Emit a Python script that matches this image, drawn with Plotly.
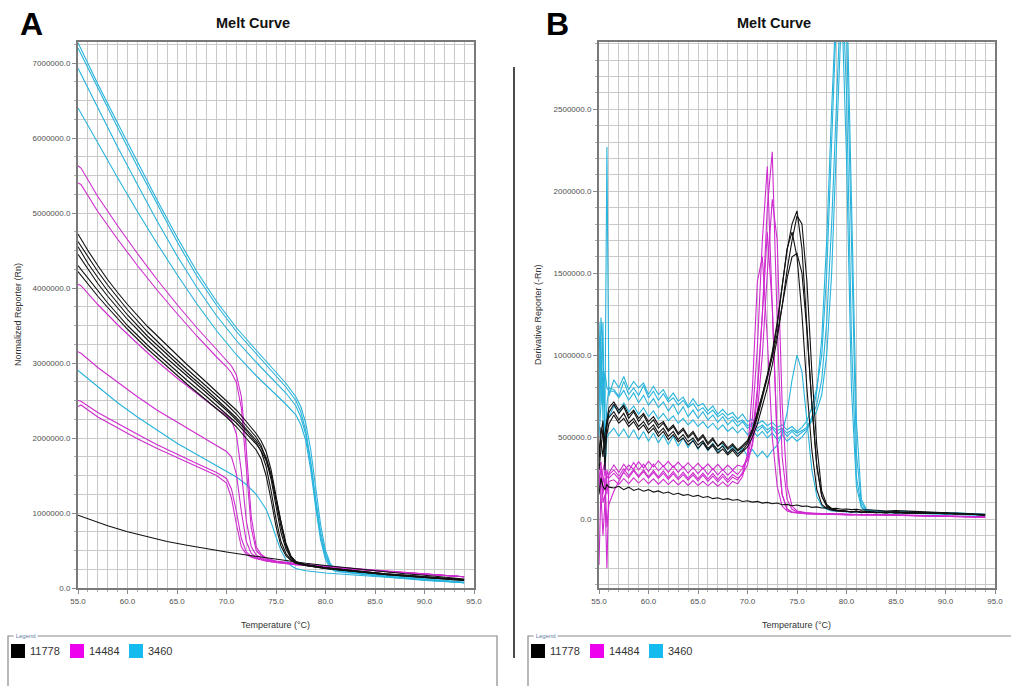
import plotly.graph_objects as go

W, H = 1011, 686

# ---------------- Panel A : Normalized Reporter (Rn), values in millions ----------------
A_BLACK_T = [55, 56, 57, 58, 59, 60, 62, 64, 66, 68, 70, 71, 72, 73, 73.5, 74, 74.5, 75,
             75.5, 76, 76.5, 77, 78, 80, 83, 86, 90, 94]
A_BLACK_M = [
    [4.72, 4.50, 4.30, 4.11, 3.94, 3.78, 3.49, 3.23, 2.98, 2.74, 2.50, 2.37, 2.22, 2.06, 1.96, 1.82, 1.58, 1.24, 0.88, 0.60, 0.43, 0.35, 0.31, 0.27, 0.23, 0.19, 0.15, 0.11],
    [4.62, 4.42, 4.22, 4.04, 3.87, 3.71, 3.42, 3.16, 2.92, 2.69, 2.45, 2.32, 2.17, 2.01, 1.90, 1.72, 1.45, 1.08, 0.74, 0.52, 0.40, 0.34, 0.30, 0.26, 0.22, 0.18, 0.14, 0.11],
    [4.55, 4.33, 4.14, 3.96, 3.80, 3.64, 3.36, 3.11, 2.87, 2.64, 2.40, 2.27, 2.12, 1.97, 1.87, 1.74, 1.52, 1.18, 0.82, 0.56, 0.41, 0.35, 0.31, 0.27, 0.23, 0.19, 0.15, 0.11],
    [4.45, 4.25, 4.06, 3.89, 3.73, 3.58, 3.31, 3.06, 2.83, 2.60, 2.37, 2.24, 2.10, 1.94, 1.82, 1.62, 1.30, 0.92, 0.62, 0.46, 0.38, 0.33, 0.30, 0.26, 0.22, 0.18, 0.14, 0.10],
    [4.30, 4.13, 3.96, 3.80, 3.65, 3.50, 3.24, 3.00, 2.77, 2.55, 2.32, 2.20, 2.06, 1.92, 1.83, 1.70, 1.50, 1.20, 0.86, 0.58, 0.42, 0.35, 0.31, 0.27, 0.23, 0.19, 0.15, 0.11],
    [4.22, 4.05, 3.89, 3.74, 3.59, 3.45, 3.19, 2.95, 2.72, 2.50, 2.28, 2.15, 2.00, 1.84, 1.72, 1.50, 1.18, 0.82, 0.56, 0.43, 0.37, 0.33, 0.30, 0.26, 0.22, 0.18, 0.14, 0.10],
]
A_BLACK_LOW_T = [55, 56, 57, 58, 60, 62, 64, 66, 68, 70, 72, 74, 76, 78, 80, 82, 84, 86, 88, 90, 92, 94]
A_BLACK_LOW_M = [0.97, 0.92, 0.87, 0.83, 0.75, 0.68, 0.62, 0.57, 0.52, 0.48, 0.44, 0.40, 0.36, 0.33,
                 0.30, 0.27, 0.24, 0.22, 0.19, 0.17, 0.14, 0.12]

A_MAG_T = [55, 55.3, 57, 59, 61, 63, 65, 67, 69, 70, 70.5, 71, 71.5, 72, 72.5, 73, 73.5, 74, 75,
           77, 80, 83, 86, 90, 94]
A_MAG_M = [
    [5.63, 5.60, 5.22, 4.83, 4.46, 4.11, 3.78, 3.47, 3.18, 3.04, 2.96, 2.84, 2.55, 1.85, 0.95, 0.55, 0.45, 0.40, 0.36, 0.33, 0.29, 0.25, 0.22, 0.18, 0.15],
    [5.40, 5.38, 5.02, 4.65, 4.30, 3.97, 3.66, 3.36, 3.08, 2.95, 2.87, 2.74, 2.40, 1.60, 0.80, 0.50, 0.43, 0.39, 0.35, 0.32, 0.29, 0.25, 0.22, 0.18, 0.15],
    [4.05, 4.03, 3.78, 3.51, 3.26, 3.02, 2.80, 2.59, 2.39, 2.30, 2.24, 2.05, 1.55, 0.90, 0.55, 0.44, 0.40, 0.38, 0.35, 0.32, 0.28, 0.25, 0.22, 0.18, 0.15],
    [3.15, 3.13, 2.94, 2.74, 2.55, 2.37, 2.21, 2.05, 1.90, 1.82, 1.75, 1.52, 1.02, 0.62, 0.46, 0.41, 0.39, 0.37, 0.35, 0.32, 0.28, 0.25, 0.22, 0.18, 0.15],
    [2.50, 2.49, 2.34, 2.19, 2.05, 1.91, 1.78, 1.66, 1.54, 1.46, 1.32, 1.02, 0.66, 0.48, 0.42, 0.40, 0.38, 0.36, 0.34, 0.31, 0.28, 0.25, 0.22, 0.18, 0.15],
    [2.42, 2.44, 2.28, 2.13, 1.99, 1.86, 1.74, 1.62, 1.50, 1.40, 1.20, 0.85, 0.55, 0.45, 0.41, 0.39, 0.37, 0.36, 0.34, 0.31, 0.28, 0.25, 0.22, 0.18, 0.15],
]

A_CYAN_T = [55, 57, 59, 61, 63, 65, 67, 69, 71, 73, 75, 76, 77, 77.5, 78, 78.5, 79, 79.5, 80,
            80.5, 81, 83, 86, 90, 94]
A_CYAN_M = [
    [7.27, 6.72, 6.20, 5.68, 5.17, 4.68, 4.22, 3.82, 3.47, 3.17, 2.88, 2.73, 2.55, 2.42, 2.20, 1.85, 1.35, 0.85, 0.50, 0.32, 0.25, 0.21, 0.17, 0.12, 0.08],
    [7.20, 6.66, 6.14, 5.62, 5.11, 4.62, 4.16, 3.77, 3.42, 3.12, 2.83, 2.68, 2.50, 2.35, 2.10, 1.70, 1.20, 0.75, 0.45, 0.30, 0.24, 0.20, 0.16, 0.11, 0.07],
    [6.93, 6.40, 5.88, 5.38, 4.89, 4.43, 4.01, 3.63, 3.30, 3.01, 2.74, 2.60, 2.43, 2.28, 2.05, 1.65, 1.15, 0.70, 0.42, 0.28, 0.23, 0.20, 0.16, 0.11, 0.07],
    [6.40, 5.93, 5.47, 5.02, 4.59, 4.18, 3.79, 3.43, 3.11, 2.83, 2.58, 2.45, 2.31, 2.18, 1.97, 1.58, 1.08, 0.64, 0.38, 0.26, 0.22, 0.19, 0.15, 0.10, 0.07],
]
A_CYAN_LOW_T = [55, 57, 59, 61, 63, 65, 67, 69, 71, 72, 73, 74, 74.5, 75, 75.5, 76, 76.5, 77,
                78, 80, 83, 86, 90, 94]
A_CYAN_LOW_M = [2.90, 2.68, 2.47, 2.28, 2.10, 1.93, 1.78, 1.63, 1.48, 1.38, 1.25, 1.05, 0.88, 0.68,
                0.50, 0.38, 0.30, 0.26, 0.23, 0.20, 0.17, 0.14, 0.10, 0.07]

# ---------------- Panel B : Derivative Reporter (-Rn), values in thousands ----------------
B_T = [55.0, 55.2, 55.4, 55.6, 55.8, 56.0,
       56.5, 57.0, 57.5, 58.0, 58.5, 59.0, 59.5, 60.0,
       60.5, 61.0, 61.5, 62.0, 62.5, 63.0, 63.5, 64.0,
       64.5, 65.0, 65.5, 66.0, 66.5, 67.0, 67.5, 68.0,
       68.5, 69.0, 69.5, 70.0, 70.5, 71.0, 71.5, 72.0,
       72.5, 73.0, 73.5, 74.0, 74.5, 75.0, 75.5, 76.0,
       76.5, 77.0, 77.5, 78.0, 78.5, 79.0, 79.5, 80.0,
       80.5, 81.0, 81.5, 82.0,
       83.0, 84.0, 85.0, 86.0, 87.0, 88.0, 89.0, 90.0, 91.0, 92.0, 93.0, 94.0]

B_CYAN_K = [
    [1200, 700, 900, 600, 2270, 750,
     850, 800, 870, 790, 840, 800, 830, 760,
     810, 760, 790, 730, 770, 720, 745, 690,
     735, 690, 705, 660, 690, 640, 670, 635,
     650, 610, 640, 595, 610, 580, 600, 570,
     590, 560, 575, 545, 565, 535, 560, 600,
     680, 800, 1000, 1500, 2300, 3100, 3400, 2600,
     1100, 260, 80, 50,
     45, 42, 44, 40, 42, 38, 40, 36, 38, 34, 32, 30],
    [900, 1100, 600, 400, 700, 800,
     790, 750, 840, 760, 800, 755, 815, 740,
     780, 725, 765, 715, 740, 695, 725, 680,
     705, 660, 680, 640, 665, 625, 645, 610,
     625, 590, 605, 570, 585, 555, 575, 545,
     565, 540, 555, 525, 545, 525, 540, 560,
     620, 700, 850, 1200, 1800, 2600, 3300, 3000,
     1600, 400, 100, 55,
     48, 44, 46, 42, 40, 38, 36, 38, 34, 32, 30, 28],
    [600, 1230, 1000, 500, 650, 620,
     690, 650, 710, 655, 690, 640, 680, 625,
     660, 610, 645, 600, 630, 585, 615, 575,
     605, 565, 595, 555, 585, 545, 575, 535,
     560, 525, 555, 515, 545, 505, 535, 495,
     525, 485, 515, 475, 505, 475, 500, 540,
     620, 780, 1100, 1700, 2500, 3200, 3200, 2200,
     800, 200, 70, 48,
     44, 40, 42, 38, 40, 36, 38, 34, 32, 30, 28, 26],
    [800, 1000, 700, 900, 800, 780,
     780, 740, 785, 725, 770, 710, 755, 695,
     735, 680, 715, 660, 700, 640, 685, 625,
     665, 615, 655, 605, 635, 590, 625, 575,
     605, 565, 595, 555, 575, 535, 565, 525,
     555, 515, 545, 505, 535, 505, 530, 550,
     600, 660, 760, 1000, 1500, 2300, 3100, 3300,
     2000, 600, 120, 60,
     50, 46, 48, 44, 42, 40, 38, 36, 34, 32, 30, 28],
    [500, 700, 1200, 300, 500, 520,
     555, 505, 550, 495, 545, 485, 535, 475,
     525, 465, 515, 455, 505, 445, 495, 435,
     485, 425, 475, 415, 465, 405, 455, 400,
     445, 395, 435, 385, 425, 380, 415, 375,
     420, 450, 520, 650, 850, 1000, 900, 600,
     300, 140, 80, 60, 50, 48, 45, 44,
     42, 44, 40, 42,
     40, 38, 36, 35, 34, 32, 30, 29, 28, 26, 24, 22],
]

B_MAG_K = [
    [-280, 200, 300, 350, 150, 280,
     330, 285, 335, 295, 345, 300, 335, 290,
     335, 295, 325, 285, 325, 285, 320, 280,
     315, 278, 312, 272, 308, 270, 303, 268,
     298, 272, 310, 380, 520, 800, 1250, 1900,
     2240, 1200, 380, 120, 60, 45, 40, 38,
     36, 34, 36, 32, 34, 30, 32, 30,
     28, 30, 27, 29,
     28, 26, 27, 25, 24, 23, 22, 21, 20, 18, 16, 14],
    [300, 150, -100, 100, 300, 250,
     280, 245, 285, 252, 295, 255, 290, 250,
     285, 248, 280, 243, 278, 240, 272, 238,
     270, 233, 268, 230, 263, 227, 260, 224,
     256, 238, 285, 380, 620, 1050, 1700, 2150,
     1300, 450, 150, 60, 45, 40, 38, 35,
     34, 32, 33, 30, 31, 29, 30, 28,
     27, 29, 26, 28,
     27, 25, 26, 24, 23, 22, 21, 20, 19, 17, 15, 13],
    [200, 320, 100, 150, -300, 230,
     240, 212, 248, 216, 252, 220, 248, 216,
     246, 213, 243, 211, 240, 209, 237, 206,
     235, 205, 231, 203, 229, 201, 227, 199,
     230, 215, 260, 400, 800, 1450, 1600, 1100,
     500, 200, 80, 50, 40, 36, 34, 32,
     31, 30, 31, 29, 30, 28, 29, 27,
     26, 28, 25, 27,
     26, 24, 25, 23, 22, 21, 20, 19, 18, 16, 14, 12],
    [300, 350, 150, 250, -50, 90,
     170, 230, 290, 330, 305, 350, 312, 352,
     318, 356, 320, 352, 316, 348, 312, 344,
     310, 340, 306, 337, 302, 334, 299, 330,
     300, 330, 320, 360, 450, 650, 1000, 1500,
     1950, 1700, 700, 200, 80, 50, 42, 38,
     36, 34, 35, 32, 33, 30, 31, 29,
     28, 30, 27, 28,
     27, 26, 25, 24, 23, 22, 21, 20, 18, 17, 15, 13],
    [180, 260, 220, 300, 250, 270,
     300, 262, 308, 266, 304, 262, 300, 258,
     297, 256, 294, 253, 291, 251, 287, 249,
     284, 246, 281, 244, 279, 241, 276, 239,
     272, 250, 275, 330, 470, 760, 1250, 1750,
     1300, 500, 150, 60, 42, 38, 35, 33,
     32, 30, 31, 29, 30, 28, 29, 27,
     26, 28, 25, 27,
     26, 24, 25, 23, 22, 21, 20, 19, 18, 16, 14, 12],
]

B_BLACK_K = [
    [350, 520, 600, 300, 560, 650,
     700, 645, 685, 615, 655, 595, 635, 575,
     605, 555, 585, 535, 565, 515, 545, 495,
     525, 475, 505, 455, 485, 445, 465, 425,
     450, 415, 440, 470, 540, 640, 760, 880,
     1020, 1200, 1420, 1640, 1800, 1880, 1650, 1200,
     700, 330, 140, 80, 60, 55, 50, 48,
     45, 50, 42, 46,
     40, 44, 38, 42, 36, 40, 34, 38, 30, 34, 28, 25],
    [420, 480, 380, 520, 600, 620,
     655, 605, 645, 585, 615, 565, 595, 545,
     575, 525, 555, 505, 535, 485, 515, 472,
     495, 452, 478, 432, 458, 422, 445, 402,
     430, 398, 420, 460, 530, 620, 740, 860,
     1000, 1180, 1420, 1650, 1750, 1600, 1250, 800,
     420, 180, 90, 65, 55, 50, 52, 46,
     44, 48, 40, 45,
     42, 38, 44, 36, 40, 34, 38, 32, 36, 30, 28, 24],
    [300, 450, 550, 480, 520, 580,
     635, 585, 615, 565, 595, 545, 575, 525,
     555, 505, 535, 485, 515, 472, 495, 452,
     478, 432, 465, 422, 448, 402, 428, 392,
     420, 382, 410, 440, 500, 580, 690, 800,
     940, 1100, 1300, 1520, 1700, 1850, 1800, 1450,
     900, 450, 170, 90, 65, 55, 50, 47,
     44, 46, 42, 44,
     40, 42, 38, 40, 36, 38, 34, 36, 32, 30, 28, 26],
    [380, 560, 500, 420, 600, 680,
     715, 665, 695, 635, 665, 615, 645, 595,
     625, 575, 595, 545, 575, 525, 555, 505,
     535, 485, 515, 465, 495, 445, 475, 435,
     460, 422, 450, 480, 550, 650, 760, 870,
     990, 1130, 1300, 1470, 1600, 1620, 1500, 1150,
     700, 320, 140, 80, 60, 52, 50, 46,
     45, 48, 43, 45,
     42, 40, 44, 38, 40, 36, 38, 34, 32, 30, 28, 26],
    [150, 250, 200, 180, 210, 195,
     190, 200, 180, 195, 175, 185, 170, 180,
     165, 172, 158, 165, 150, 158, 145, 150,
     138, 145, 132, 138, 125, 130, 120, 125,
     115, 120, 108, 112, 104, 108, 98, 102,
     94, 98, 88, 90, 82, 86, 78, 80,
     72, 75, 68, 70, 64, 66, 60, 62,
     58, 60, 55, 57,
     54, 50, 52, 48, 46, 44, 42, 40, 38, 36, 34, 30],
]

SERIES_NAMES = ["11778", "14484", "3460"]
LINE_COLORS = {"11778": "#111111", "14484": "#cf2bcf", "3460": "#27b3dc"}
SWATCH_COLORS = {"11778": "#000000", "14484": "#ee00ee", "3460": "#14bbee"}

X_TICKS = [55, 60, 65, 70, 75, 80, 85, 90, 95]

# ------------------------------------------------------------------------------------------
def px(x):
    return x / W


def py(y):
    return 1 - y / H


fig = go.Figure()


def add_line(T, vals, scale, color, xa, ya):
    fig.add_trace(go.Scatter(
        x=T, y=[v * scale for v in vals], mode="lines",
        line=dict(color=color, width=1.1), xaxis=xa, yaxis=ya,
        showlegend=False, hoverinfo="skip"))


# Panel A
for v in A_CYAN_M:
    add_line(A_CYAN_T, v, 1e6, LINE_COLORS["3460"], "x", "y")
add_line(A_CYAN_LOW_T, A_CYAN_LOW_M, 1e6, LINE_COLORS["3460"], "x", "y")
for v in A_MAG_M:
    add_line(A_MAG_T, v, 1e6, LINE_COLORS["14484"], "x", "y")
for v in A_BLACK_M:
    add_line(A_BLACK_T, v, 1e6, LINE_COLORS["11778"], "x", "y")
add_line(A_BLACK_LOW_T, A_BLACK_LOW_M, 1e6, LINE_COLORS["11778"], "x", "y")

# Panel B
for v in B_CYAN_K:
    add_line(B_T, v, 1e3, LINE_COLORS["3460"], "x2", "y2")
for v in B_MAG_K:
    add_line(B_T, v, 1e3, LINE_COLORS["14484"], "x2", "y2")
for v in B_BLACK_K:
    add_line(B_T, v, 1e3, LINE_COLORS["11778"], "x2", "y2")

TICKFONT = dict(family="Liberation Sans, Arial, sans-serif", size=8, color="#505050")
GRID = "#c9c9c9"
AX_COMMON = dict(
    showline=True, mirror=True, linecolor="#7a7a7a", linewidth=2,
    showgrid=True, gridcolor=GRID, gridwidth=1, zeroline=False,
    ticks="outside", ticklen=4, tickcolor="#8a8a8a", tickfont=TICKFONT,
    automargin=False, fixedrange=True,
)

y_dom = [py(588), py(42)]
fig.update_layout(
    width=W, height=H, template="none",
    margin=dict(l=0, r=0, t=0, b=0),
    paper_bgcolor="white", plot_bgcolor="white",
    showlegend=False,
    xaxis=dict(domain=[px(78), px(474)], anchor="y", range=[55, 95],
               tickvals=X_TICKS, tickformat=".1f",
               minor=dict(dtick=1, tick0=55, showgrid=True, gridcolor=GRID,
                          ticks="outside", ticklen=2, tickcolor="#aaaaaa"),
               **AX_COMMON),
    yaxis=dict(domain=y_dom, anchor="x", range=[0, 7.28e6],
               tick0=0, dtick=1e6, tickformat=".1f",
               minor=dict(dtick=250000, tick0=0, showgrid=True, gridcolor=GRID,
                          ticks="outside", ticklen=2, tickcolor="#aaaaaa"),
               **AX_COMMON),
    xaxis2=dict(domain=[px(599), px(995)], anchor="y2", range=[55, 95],
                tickvals=X_TICKS, tickformat=".1f",
                minor=dict(dtick=1, tick0=55, showgrid=True, gridcolor=GRID,
                           ticks="outside", ticklen=2, tickcolor="#aaaaaa"),
                **AX_COMMON),
    yaxis2=dict(domain=y_dom, anchor="x2", range=[-420000, 2910000],
                tick0=0, dtick=500000, tickformat=".1f",
                minor=dict(dtick=100000, tick0=0, showgrid=True, gridcolor=GRID,
                           ticks="outside", ticklen=2, tickcolor="#aaaaaa"),
                **AX_COMMON),
)

ann = []
shapes = []
BASEFONT = "Liberation Sans, Arial, sans-serif"


def text(x, y, s, size, color="#222", bold=False, angle=0, xanchor="center", bg=None):
    d = dict(x=px(x), y=py(y), xref="paper", yref="paper", text=("<b>%s</b>" % s) if bold else s,
             showarrow=False, xanchor=xanchor, yanchor="middle", textangle=angle,
             font=dict(family=BASEFONT, size=size, color=color))
    if bg:
        d["bgcolor"] = bg
        d["borderpad"] = 0
    ann.append(d)


# Panel letters and titles
text(31, 24, "A", 32, "#000", bold=True)
text(557, 24, "B", 32, "#000", bold=True)
text(253, 23, "Melt Curve", 14.5, "#111", bold=True)
text(774, 23, "Melt Curve", 14.5, "#111", bold=True)

# Axis titles
text(275, 625, "Temperature (°C)", 9, "#333")
text(796, 625, "Temperature (°C)", 9, "#333")
text(18, 315, "Normalized Reporter (Rn)", 9, "#333", angle=-90)
text(538, 315, "Derivative Reporter (-Rn)", 9, "#333", angle=-90)

# Separator line between panels
shapes.append(dict(type="line", xref="paper", yref="paper", x0=px(514), x1=px(514),
                   y0=py(67), y1=py(658), line=dict(color="#111", width=1.5)))

# Legend boxes
for (bx0, bx1) in [(8, 497), (528, 1020)]:
    shapes.append(dict(type="rect", xref="paper", yref="paper", x0=px(bx0), x1=px(bx1),
                       y0=py(700), y1=py(636), line=dict(color="#8a8a8a", width=1.2),
                       fillcolor="rgba(0,0,0,0)"))
    text(bx0 + 5, 636, " Legend ", 6, "#5f7f9f", xanchor="left", bg="white")
    sx = bx0 + 3
    for name in SERIES_NAMES:
        shapes.append(dict(type="rect", xref="paper", yref="paper", x0=px(sx), x1=px(sx + 14),
                           y0=py(658), y1=py(644), line=dict(color=SWATCH_COLORS[name], width=0),
                           fillcolor=SWATCH_COLORS[name]))
        text(sx + 17, 651, name, 11, "#333", xanchor="left")
        sx += 59

fig.update_layout(annotations=ann, shapes=shapes)

fig.write_html("out.html")
